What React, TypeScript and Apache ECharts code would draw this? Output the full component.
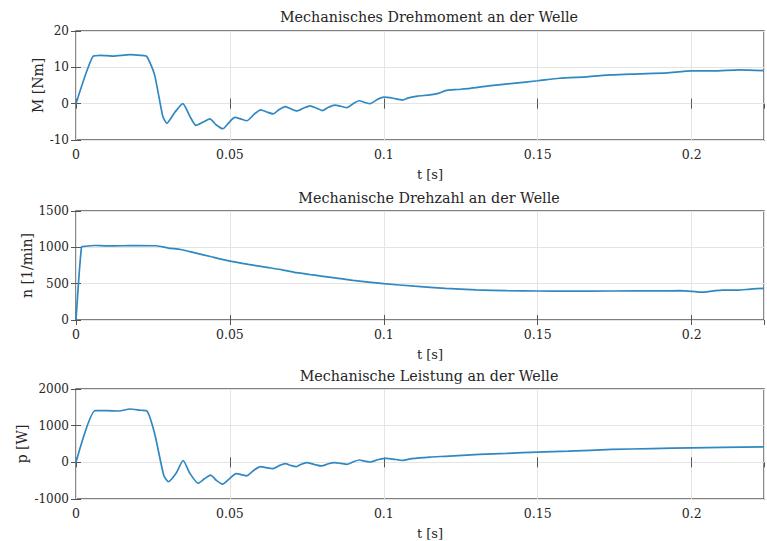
import React, { useEffect, useRef } from "react";
import * as echarts from "echarts";

const titles = [
  "Mechanisches Drehmoment an der Welle",
  "Mechanische Drehzahl an der Welle",
  "Mechanische Leistung an der Welle",
];
const yNames = ["M [Nm]", "n [1/min]", "p [W]"];
const xName = "t [s]";
const xTicks = [0, 0.05, 0.1, 0.15, 0.2];
const yRanges = [
  { min: -10, max: 20, interval: 10 },
  { min: 0, max: 1500, interval: 500 },
  { min: -1000, max: 2000, interval: 1000 },
];
const tMax = 0.2235;

const torque: [number, number][] = [
  [0, 0], [0.0055, 13], [0.008, 13.3], [0.012, 13.1],
  [0.0175, 13.5], [0.021, 13.3], [0.023, 13], [0.0255, 8], [0.0282, -3.5], [0.0295, -5.4],
  [0.032, -2.5], [0.0347, 0], [0.037, -3.5], [0.039, -6], [0.0415, -5], [0.0435, -4.2],
  [0.0455, -5.8], [0.0477, -6.9], [0.0497, -5.2], [0.0516, -3.8], [0.0535, -4.2],
  [0.0555, -4.7], [0.058, -2.8], [0.06, -1.7], [0.062, -2.3], [0.064, -2.8], [0.066, -1.6],
  [0.068, -0.8], [0.07, -1.5], [0.0717, -2], [0.074, -1.2], [0.076, -0.6], [0.078, -1.2],
  [0.08, -1.9], [0.082, -1], [0.084, -0.4], [0.086, -0.7], [0.088, -1.1], [0.09, 0],
  [0.092, 0.8], [0.094, 0.3], [0.0955, 0], [0.098, 1.2], [0.1, 1.8], [0.103, 1.5],
  [0.106, 1], [0.108, 1.6], [0.111, 2.1], [0.115, 2.4], [0.118, 2.9], [0.12, 3.6],
  [0.124, 3.9], [0.128, 4.2], [0.134, 4.9], [0.142, 5.6], [0.15, 6.3], [0.157, 7],
  [0.166, 7.4], [0.174, 7.9], [0.183, 8.2], [0.192, 8.5], [0.2, 9], [0.207, 9],
  [0.2155, 9.3], [0.2235, 9.1],
];

const speed: [number, number][] = [
  [0, 0], [0.0018, 1005], [0.003, 1015], [0.006, 1025],
  [0.01, 1020], [0.015, 1022], [0.02, 1025], [0.026, 1022], [0.03, 990], [0.034, 970],
  [0.038, 931], [0.044, 870], [0.05, 811], [0.056, 765], [0.062, 724], [0.067, 690],
  [0.0716, 651], [0.077, 620], [0.0835, 582], [0.09, 545], [0.1, 500], [0.11, 465],
  [0.12, 436], [0.13, 415], [0.14, 403], [0.15, 399], [0.16, 397], [0.174, 399],
  [0.19, 401], [0.196, 403], [0.2, 395], [0.203, 383], [0.207, 400], [0.21, 412],
  [0.215, 410], [0.219, 425], [0.2235, 436],
];

const power: [number, number][] = [
  [0, 0], [0.0062, 1410], [0.01, 1410], [0.014, 1400],
  [0.0175, 1455], [0.021, 1420], [0.023, 1405], [0.0255, 800], [0.0285, -350], [0.03, -530],
  [0.0325, -300], [0.0348, 50], [0.037, -300], [0.0397, -570], [0.0417, -450],
  [0.0437, -350], [0.0457, -500], [0.0476, -595], [0.0498, -450], [0.052, -306],
  [0.054, -340], [0.0554, -370], [0.058, -200], [0.06, -117], [0.062, -150], [0.064, -171],
  [0.066, -90], [0.068, -36], [0.07, -90], [0.0716, -117], [0.073, -60], [0.075, -9],
  [0.0775, -60], [0.0798, -99], [0.082, -40], [0.084, -9], [0.086, -30], [0.088, -54],
  [0.09, 10], [0.092, 63], [0.094, 30], [0.0957, 9], [0.098, 70], [0.1008, 108],
  [0.103, 90], [0.106, 54], [0.109, 100], [0.115, 144], [0.12, 165], [0.131, 216],
  [0.14, 245], [0.15, 279], [0.16, 305], [0.174, 351], [0.187, 375], [0.2, 396],
  [0.21, 410], [0.2235, 423],
];

const seriesData = [torque, speed, power];

const FONT = "DejaVu Serif";
const TXT = "#262626";
const AXIS = "#555555";
const GRIDC = "#e4e4e4";
const LINE = "#3088c2";

const grids = [
  { top: 31, height: 109 },
  { top: 211, height: 109 },
  { top: 389, height: 111 },
];
const titleTops = [5, 186, 364];
const yNameGaps = [31, 42, 47];

export default function App() {
  const ref = useRef<HTMLDivElement>(null);
  useEffect(() => {
    const chart = echarts.init(ref.current!, null, { renderer: "svg" });
    const xAxis: any[] = [];
    const yAxis: any[] = [];
    grids.forEach((g, i) => {
      const tick = { show: true, inside: true, length: 5, lineStyle: { color: AXIS, width: 1 } };
      xAxis.push({
        type: "value", gridIndex: i, min: 0, max: tMax, interval: 0.05,
        position: "bottom",
        axisLine: { show: false },
        axisTick: tick,
        axisLabel: {
          color: TXT, fontFamily: FONT, fontSize: 12.5, margin: 8,
          showMaxLabel: false,
          formatter: (v: number) => (xTicks.some((t) => Math.abs(t - v) < 1e-9) ? String(+v.toFixed(2)) : ""),
        },
        splitLine: { show: true, lineStyle: { color: GRIDC, width: 1 } },
        name: xName, nameLocation: "middle", nameGap: 28, nameMoveOverlap: false,
        nameTextStyle: { color: TXT, fontFamily: FONT, fontSize: 13, padding: [0, 0, 0, 20] },
      });
      xAxis.push({
        type: "value", gridIndex: i, min: 0, max: tMax, interval: 0.05,
        position: "top",
        axisLine: { show: false }, axisTick: tick, axisLabel: { show: false },
        splitLine: { show: false },
      });
      const r = yRanges[i];
      yAxis.push({
        type: "value", gridIndex: i, min: r.min, max: r.max, interval: r.interval,
        position: "left",
        axisLine: { show: false }, axisTick: tick,
        axisLabel: {
          color: TXT, fontFamily: FONT, fontSize: 12, margin: 7,
          formatter: (v: number) => String(v),
        },
        splitLine: { show: true, lineStyle: { color: GRIDC, width: 1 } },
        name: yNames[i], nameLocation: "middle", nameGap: yNameGaps[i], nameRotate: 90,
        nameMoveOverlap: false,
        nameTextStyle: { color: TXT, fontFamily: FONT, fontSize: 14 },
      });
      yAxis.push({
        type: "value", gridIndex: i, min: r.min, max: r.max, interval: r.interval,
        position: "right",
        axisLine: { show: false }, axisTick: tick, axisLabel: { show: false },
        splitLine: { show: false },
      });
    });
    chart.setOption({
      animation: false,
      backgroundColor: "#ffffff",
      textStyle: { fontFamily: FONT },
      title: titles.map((t, i) => ({
        text: t, left: 424, top: titleTops[i], textAlign: "center",
        textStyle: { color: TXT, fontFamily: FONT, fontSize: 14.3, fontWeight: "normal" },
      })),
      grid: grids.map((g) => ({
        left: 76, right: 3, top: g.top, height: g.height,
        show: true, borderColor: AXIS, borderWidth: 1.4, backgroundColor: "transparent",
      })),
      xAxis,
      yAxis,
      series: seriesData.map((d, i) => ({
        type: "line", xAxisIndex: 2 * i, yAxisIndex: 2 * i, data: d,
        showSymbol: false, symbol: "none",
        smooth: 0.2,
        lineStyle: { color: LINE, width: 1.7 },
        z: 3,
      })),
    });
    return () => chart.dispose();
  }, []);
  return <div ref={ref} style={{ position: "fixed", left: 0, top: 0, width: 767, height: 541 }} />;
}
